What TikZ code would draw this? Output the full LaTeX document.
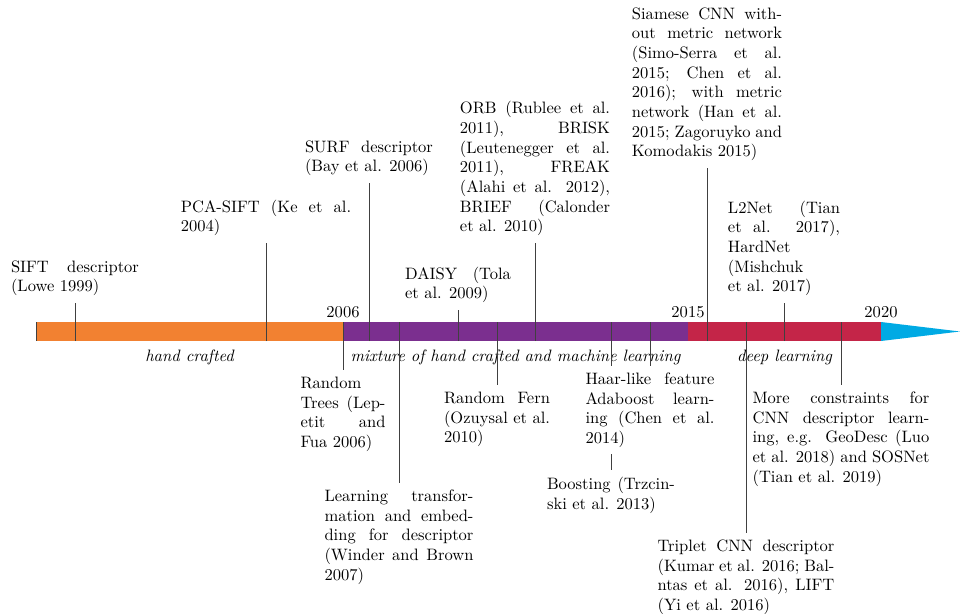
\documentclass[tikz,border=0pt]{standalone}
\usepackage{tikz}
\usetikzlibrary{positioning}

\definecolor{handcol}{RGB}{242,129,49}
\definecolor{mixcol}{RGB}{123,47,143}
\definecolor{deepcol}{RGB}{196,37,72}
\definecolor{nowcol}{RGB}{0,170,228}

\begin{document}
\begin{tikzpicture}[
  x=0.605pt, y=-0.605pt,
  font=\fontsize{10}{11.9}\selectfont,
  tick/.style={black!75, line width=0.45pt},
  up/.style={anchor=south, align=justify, inner xsep=0pt, inner ysep=4pt},
  down/.style={anchor=north, align=justify, inner xsep=0pt, inner ysep=4pt},
  year/.style={anchor=south, inner sep=2.5pt},
  era/.style={anchor=base, inner sep=0pt, font=\fontsize{10}{11.9}\selectfont\itshape},
]
\useasboundingbox (0,0) rectangle (960,613);

% --- Time bar ---
\fill[handcol] (36,322) rectangle (343,341);
\fill[mixcol] (343,322) rectangle (688,341);
\fill[deepcol] (688,322) rectangle (881,341);
\fill[nowcol] (881,322) -- (960,331.5) -- (881,341) -- cycle;
\draw[tick] (36,322) -- (36,341);

% --- Years and eras ---
\node[year] (y06) at (343,322) {2006};
\node[year] (y15) at (688,322) {2015};
\node[year] (y20) at (881,322) {2020};
\node[era] (hand) at (189.5,361) {hand crafted};
\node[era] (mix) at (515.5,361) {mixture of hand crafted and machine learning};
\node[era] (deep) at (784.5,361) {deep learning};

% --- Events above the bar ---
\coordinate (sift) at (75,341);
\coordinate (pca) at (266,341);
\coordinate (surf) at (369,341);
\coordinate (daisy) at (458,341);
\coordinate (orb) at (535,341);
\coordinate (siam) at (707,341);
\coordinate (l2net) at (784,341);

\node[up, text width=77.4pt] (siftn) at (75,303) {SIFT descriptor\linebreak (Lowe 1999)};
\node[up, text width=103pt] (pcan) at (266,243) {PCA-SIFT (Ke et al.\linebreak 2004)};
\node[up, text width=77.4pt] (surfn) at (369,183) {SURF descriptor\linebreak (Bay et al. 2006)};
\node[up, text width=64pt] (daisyn) at (458,310) {DAISY (Tola\linebreak et al. 2009)};
\node[up, text width=90.8pt] (orbn) at (535,243) {ORB (Rublee et al.\linebreak 2011), BRISK\linebreak (Leutenegger et al.\linebreak 2011), FREAK\linebreak (Alahi et al. 2012),\linebreak BRIEF (Calonder\linebreak et al. 2010)};
\node[up, text width=90.8pt] (siamn) at (707,168) {Siamese CNN with-\linebreak out metric network\linebreak (Simo-Serra et al.\linebreak 2015; Chen et al.\linebreak 2016); with metric\linebreak network (Han et al.\linebreak 2015; Zagoruyko and\linebreak Komodakis 2015)};
\node[up, text width=67.8pt] (l2netn) at (784,303) {L2Net (Tian\linebreak et al. 2017),\linebreak HardNet\linebreak (Mishchuk\linebreak et al. 2017)};

\draw[tick] (sift) -- (siftn.south);
\draw[tick] (pca) -- (pcan.south);
\draw[tick] (surf) -- (surfn.south);
\draw[tick] (daisy) -- (daisyn.south);
\draw[tick] (orb) -- (orbn.south);
\draw[tick] (siam) -- (siamn.south);
\draw[tick] (l2net) -- (l2netn.south);

% --- Events below the bar ---
\coordinate (trees) at (343,322);
\coordinate (wind) at (399,322);
\coordinate (fern) at (497,322);
\coordinate (boost) at (611,322);
\coordinate (haar) at (650,322);
\coordinate (trip) at (746,322);
\coordinate (geo) at (841,322);

\node[down, text width=51.4pt] (treesn) at (343,370) {Random\linebreak Trees (Lep-\linebreak etit and\linebreak Fua 2006)};
\node[down, text width=90.1pt] (windn) at (399,483) {Learning transfor-\linebreak mation and embed-\linebreak ding for descriptor\linebreak (Winder and Brown\linebreak 2007)};
\node[down, text width=64.1pt] (fernn) at (497,385) {Random Fern\linebreak (Ozuysal et al.\linebreak 2010)};
\node[down, text width=77.4pt] (boostn) at (611,470) {Boosting (Trzcin-\linebreak ski et al. 2013)};
\draw[tick] (boost) -- (boostn.north);
\node[down, text width=78pt, fill=white] (haarn) at (650,366) {Haar-like feature\linebreak Adaboost learn-\linebreak ing (Chen et al.\linebreak 2014)};
\node[down, text width=107pt] (tripn) at (746,533) {Triplet CNN descriptor\linebreak (Kumar et al. 2016; Bal-\linebreak ntas et al. 2016), LIFT\linebreak (Yi et al. 2016)};
\node[down, text width=107pt] (geon) at (841,385) {More constraints for\linebreak CNN descriptor learn-\linebreak ing, e.g. GeoDesc (Luo\linebreak et al. 2018) and SOSNet\linebreak (Tian et al. 2019)};

\draw[tick] (trees) -- (treesn.north);
\draw[tick] (wind) -- (windn.north);
\draw[tick] (fern) -- (fernn.north);
\draw[tick] (haar) -- (haarn.north);
\draw[tick] (trip) -- (tripn.north);
\draw[tick] (geo) -- (geon.north);

\end{tikzpicture}
\end{document}
